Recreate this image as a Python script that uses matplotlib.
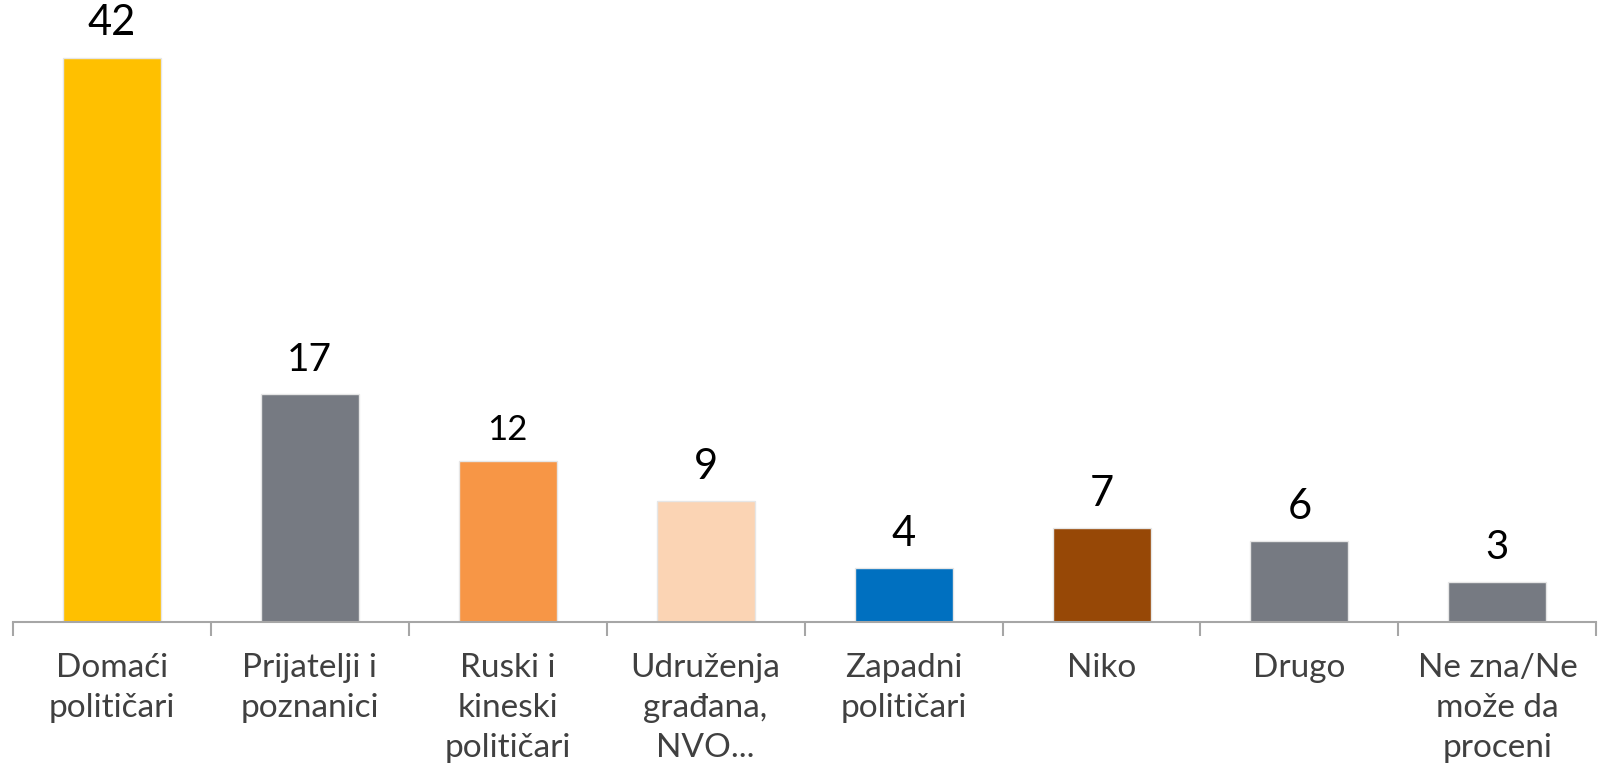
import numpy as np
import matplotlib.pyplot as plt

plt.rcParams['font.family'] = ['Lato', 'DejaVu Sans']

categories = ['Domaći\npolitičari', 'Prijatelji i\npoznanici', 'Ruski i\nkineski\npolitičari',
              'Udruženja\ngrađana,\nNVO...', 'Zapadni\npolitičari', 'Niko', 'Drugo',
              'Ne zna/Ne\nmože da\nproceni']
values = [42, 17, 12, 9, 4, 7, 6, 3]
colors = ['#FFC000', '#767A82', '#F79646', '#FBD4B4', '#0070C0', '#974806', '#767A82', '#767A82']
label_sizes = [30, 28, 25, 30, 30, 30, 30, 29]

fig = plt.figure(figsize=(15.98, 7.68), dpi=100)
ax = fig.add_axes([0.008, 0.190, 0.991, 0.81])

x = np.arange(len(values))
bars = ax.bar(x, values, width=0.495, color=colors, edgecolor='#E6E6E6', linewidth=1, zorder=2)

for b, v, s in zip(bars, values, label_sizes):
    ax.annotate(str(v), (b.get_x() + b.get_width() / 2, v), xytext=(0, 11),
                textcoords='offset points', ha='center', va='bottom', fontsize=s, color='black')

ax.set_xlim(-0.5, 7.5)
ax.set_ylim(0, 46.3)

for side in ['top', 'right', 'left']:
    ax.spines[side].set_visible(False)
ax.spines['bottom'].set_color('#A6A6A6')
ax.spines['bottom'].set_linewidth(1.5)
ax.set_yticks([])

ax.set_xticks(x)
ax.set_xticklabels(categories, fontsize=24, color='#404040', linespacing=1.42, va='top')
ax.tick_params(axis='x', which='major', length=0, pad=22)
ax.set_xticks(np.arange(-0.5, 8, 1), minor=True)
ax.tick_params(axis='x', which='minor', length=10, width=1.5, color='#A6A6A6')

fig.savefig('out.png', dpi=100)
